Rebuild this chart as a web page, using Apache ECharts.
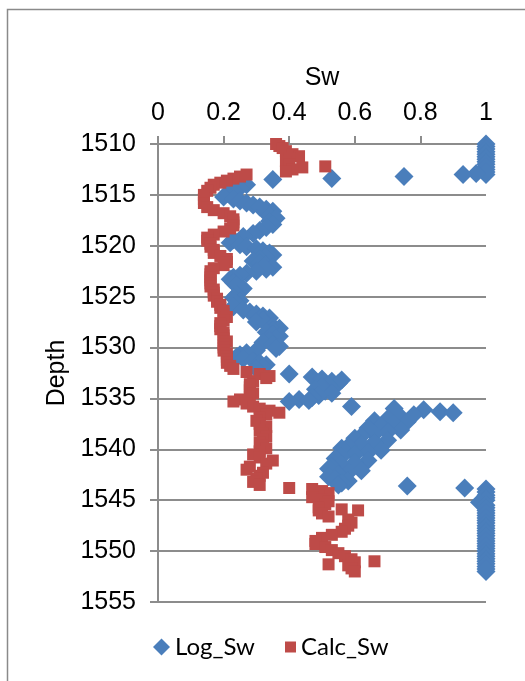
<!DOCTYPE html>
<html>
<head>
<meta charset="utf-8">
<script src="https://cdn.jsdelivr.net/npm/echarts@6/dist/echarts.min.js"></script>
<style>
  html, body { margin: 0; padding: 0; background: #fff; }
  #chart { width: 525px; height: 681px; }
</style>
</head>
<body>
<div id="chart"></div>
<script>
// x axis ticks (Sw) and y axis ticks (Depth)
var swTicks = [0, 0.2, 0.4, 0.6, 0.8, 1];
var depthTicks = [1510, 1515, 1520, 1525, 1530, 1535, 1540, 1545, 1550, 1555];
var seriesNames = ['Log_Sw', 'Calc_Sw'];

// Log_Sw: depth / value
var logDepth = [
  1510.0, 1510.25, 1510.5, 1510.75, 1511.0, 1511.25, 1511.5, 1511.75, 1512.0, 1512.25, 1512.5, 1512.75,
  1513.0, 1512.9, 1513.0, 1513.2, 1513.4, 1513.5,
  1514.0, 1514.3, 1514.6, 1514.9, 1515.2, 1515.4, 1515.6, 1515.8, 1516.0, 1516.2, 1516.4, 1516.6, 1516.8,
  1517.0, 1517.3, 1517.6, 1517.9, 1518.2, 1518.5, 1518.8, 1519.1, 1519.4, 1519.7, 1519.9,
  1520.1, 1520.3, 1520.5, 1520.7, 1520.9, 1521.1, 1521.3, 1521.5, 1521.7, 1521.9,
  1522.1, 1522.3, 1522.5, 1522.7, 1522.9, 1523.1, 1523.3, 1523.6, 1523.9,
  1524.2, 1524.5, 1524.8, 1525.1, 1525.4, 1525.7, 1526.0, 1526.3, 1526.5, 1526.7, 1526.9,
  1527.1, 1527.3, 1527.5, 1527.7, 1527.9, 1528.1, 1528.3, 1528.5, 1528.7, 1528.9,
  1529.1, 1529.3, 1529.5, 1529.7, 1529.9, 1530.1, 1530.3, 1530.5, 1530.7, 1530.9,
  1531.1, 1531.3, 1531.5, 1531.7, 1531.9, 1532.1,
  1532.6, 1532.9, 1533.1, 1533.3, 1533.5, 1533.2, 1533.7, 1533.9, 1534.1, 1534.3, 1534.5, 1534.7, 1534.9,
  1535.1, 1535.3, 1535.2, 1535.8,
  1536.0, 1536.1, 1536.3, 1536.4, 1536.6, 1536.8, 1537.0, 1537.2, 1537.3, 1537.5, 1537.7, 1537.9,
  1538.1, 1538.3, 1538.5, 1538.7, 1538.9, 1539.1, 1539.3, 1539.5, 1539.7, 1539.9,
  1540.1, 1540.3, 1540.5, 1540.7, 1540.9, 1541.1, 1541.3, 1541.5, 1541.7, 1541.9,
  1542.1, 1542.3, 1542.5, 1542.7, 1542.9, 1543.1, 1543.3, 1543.5, 1543.6, 1543.8,
  1543.9, 1544.2, 1544.5, 1544.75, 1545.0, 1545.2, 1545.5, 1545.75, 1546.0, 1546.25, 1546.5, 1546.75,
  1547.0, 1547.25, 1547.5, 1547.75, 1548.0, 1548.25, 1548.5, 1548.75, 1549.0, 1549.25, 1549.5, 1549.75,
  1550.0, 1550.25, 1550.5, 1550.75, 1551.0, 1551.25, 1551.5, 1551.75, 1552.0
];
var logSw = [
  1.0, 1.0, 1.0, 1.0, 1.0, 1.0, 1.0, 1.0, 1.0, 1.0, 1.0, 1.0,
  1.0, 0.97, 0.93, 0.75, 0.53, 0.35,
  0.27, 0.25, 0.23, 0.21, 0.20, 0.23, 0.25, 0.27, 0.29, 0.31, 0.33, 0.35, 0.33,
  0.34, 0.36, 0.34, 0.35, 0.33, 0.31, 0.29, 0.26, 0.23, 0.22, 0.25,
  0.27, 0.30, 0.32, 0.34, 0.35, 0.33, 0.31, 0.29, 0.31, 0.33,
  0.35, 0.33, 0.30, 0.27, 0.25, 0.23, 0.22, 0.23, 0.24,
  0.26, 0.25, 0.24, 0.23, 0.25, 0.24, 0.23, 0.26, 0.28, 0.30, 0.32,
  0.34, 0.32, 0.30, 0.33, 0.35, 0.37, 0.35, 0.33, 0.35, 0.37,
  0.36, 0.34, 0.32, 0.35, 0.37, 0.36, 0.30, 0.27, 0.25, 0.24,
  0.26, 0.29, 0.31, 0.33, 0.32, 0.30,
  0.40, 0.47, 0.50, 0.53, 0.55, 0.56, 0.52, 0.50, 0.48, 0.51, 0.53, 0.49, 0.47,
  0.43, 0.40, 0.46, 0.59,
  0.72, 0.81, 0.86, 0.90, 0.78, 0.74, 0.70, 0.66, 0.76, 0.72, 0.68, 0.64,
  0.74, 0.70, 0.66, 0.62, 0.60, 0.70, 0.66, 0.62, 0.58, 0.56,
  0.68, 0.64, 0.60, 0.56, 0.54, 0.64, 0.60, 0.56, 0.53, 0.52,
  0.62, 0.58, 0.55, 0.52, 0.54, 0.58, 0.56, 0.55, 0.76, 0.935,
  1.0, 1.0, 1.0, 1.0, 1.0, 0.98, 1.0, 1.0, 1.0, 1.0, 1.0, 1.0,
  1.0, 1.0, 1.0, 1.0, 1.0, 1.0, 1.0, 1.0, 1.0, 1.0, 1.0, 1.0,
  1.0, 1.0, 1.0, 1.0, 1.0, 1.0, 1.0, 1.0, 1.0
];

// Calc_Sw: depth / value
var calcDepth = [
  1510.0, 1510.2, 1510.4, 1510.7, 1511.0, 1511.2, 1511.4, 1511.7, 1512.0, 1512.2, 1512.3, 1512.5, 1512.7,
  1513.0, 1513.2, 1513.4, 1513.6, 1513.8, 1514.0, 1514.3, 1514.6, 1515.0, 1515.4, 1515.8, 1516.2, 1516.5, 1516.8,
  1517.1, 1517.4, 1517.7, 1518.0, 1518.3, 1518.6, 1518.9, 1519.2, 1519.5, 1519.8,
  1520.1, 1520.4, 1520.7, 1521.0, 1521.3, 1521.6, 1521.9, 1522.2, 1522.5, 1522.8,
  1523.1, 1523.4, 1523.7, 1524.0, 1524.3, 1524.6, 1524.9, 1525.2, 1525.5, 1525.8,
  1526.1, 1526.4, 1526.7, 1527.0, 1527.3, 1527.6, 1527.9, 1528.2, 1528.5, 1528.8,
  1529.1, 1529.4, 1529.7, 1530.0, 1530.3, 1530.6, 1530.9, 1531.2, 1531.5, 1531.8,
  1532.1, 1532.4, 1532.6, 1532.8, 1533.0, 1533.3, 1533.6, 1533.9, 1534.2, 1534.5, 1534.8,
  1535.1, 1535.3, 1535.5, 1535.8, 1536.0, 1536.2, 1536.4, 1536.6, 1536.9,
  1537.2, 1537.5, 1537.8, 1538.1, 1538.4, 1538.7, 1539.0, 1539.3, 1539.6, 1539.9,
  1540.2, 1540.5, 1540.8, 1541.1, 1541.4, 1541.7, 1542.0, 1542.3, 1542.6, 1542.9,
  1543.2, 1543.5, 1543.8, 1543.9,
  1544.1, 1544.3, 1544.5, 1544.7, 1544.9, 1545.1, 1545.4, 1545.7, 1546.0, 1546.3, 1546.6, 1545.9, 1546.0,
  1546.9, 1547.2, 1547.5, 1547.8, 1548.1, 1548.4, 1548.7, 1549.0, 1549.3, 1549.6, 1549.9,
  1550.2, 1550.5, 1550.8, 1551.1, 1551.4, 1551.7, 1551.3, 1551.0, 1552.0
];
var calcSw = [
  0.36, 0.37, 0.38, 0.39, 0.41, 0.43, 0.40, 0.39, 0.40, 0.51, 0.44, 0.41, 0.39,
  0.27, 0.25, 0.23, 0.21, 0.19, 0.17, 0.16, 0.15, 0.14, 0.14, 0.14, 0.15, 0.17, 0.20,
  0.22, 0.23, 0.23, 0.23, 0.22, 0.20, 0.17, 0.15, 0.15, 0.16,
  0.16, 0.17, 0.17, 0.19, 0.21, 0.21, 0.20, 0.17, 0.16, 0.16,
  0.16, 0.16, 0.16, 0.16, 0.17, 0.17, 0.17, 0.18, 0.18, 0.19,
  0.19, 0.20, 0.20, 0.21, 0.20, 0.19, 0.19, 0.19, 0.20, 0.20,
  0.20, 0.21, 0.20, 0.20, 0.20, 0.21, 0.21, 0.21, 0.21, 0.22,
  0.23, 0.27, 0.31, 0.34, 0.33, 0.29, 0.28, 0.28, 0.28, 0.29, 0.28,
  0.25, 0.23, 0.27, 0.29, 0.31, 0.34, 0.37, 0.33, 0.31,
  0.30, 0.31, 0.33, 0.31, 0.32, 0.33, 0.32, 0.31, 0.32, 0.33,
  0.31, 0.29, 0.31, 0.35, 0.33, 0.28, 0.27, 0.32, 0.31, 0.30,
  0.29, 0.31, 0.40, 0.47,
  0.50, 0.52, 0.49, 0.47, 0.50, 0.52, 0.51, 0.49, 0.49, 0.50, 0.52, 0.56, 0.61,
  0.58, 0.59, 0.58, 0.57, 0.56, 0.53, 0.50, 0.48, 0.48, 0.51, 0.53,
  0.55, 0.57, 0.59, 0.60, 0.58, 0.59, 0.52, 0.66, 0.60
];

function pairs(xs, ys) {
  var out = [];
  for (var i = 0; i < xs.length; i++) out.push([xs[i], ys[i]]);
  return out;
}

var axisFont = '"Liberation Sans", Arial, sans-serif';
var gridColor = '#8c8c8c';

var chart = echarts.init(document.getElementById('chart'), null, { renderer: 'canvas' });
chart.setOption({
  animation: false,
  backgroundColor: '#fff',
  graphic: [{
    type: 'rect',
    shape: { x: 7.5, y: 9.5, width: 700, height: 800 },
    style: { fill: 'none', stroke: '#8a8a8a', lineWidth: 1.5 },
    silent: true
  }],
  grid: { left: 158, right: 39, top: 144, bottom: 79 },
  legend: [{
    data: [{ name: seriesNames[0], icon: 'diamond' }],
    left: 148, top: 630,
    itemWidth: 17, itemHeight: 17,
    textStyle: { fontFamily: 'Lato, sans-serif', fontSize: 24, color: '#000' }
  }, {
    data: [{ name: seriesNames[1], icon: 'rect' }],
    left: 280, top: 630,
    itemWidth: 11, itemHeight: 11,
    textStyle: { fontFamily: 'Lato, sans-serif', fontSize: 24, color: '#000' }
  }],
  xAxis: {
    type: 'value',
    position: 'top',
    min: swTicks[0],
    max: swTicks[swTicks.length - 1],
    interval: 0.2,
    name: 'Sw',
    nameLocation: 'middle',
    nameGap: 53,
    nameTextStyle: { fontFamily: axisFont, fontSize: 25, color: '#000' },
    axisLine: { show: true, lineStyle: { color: gridColor, width: 2 } },
    axisTick: { show: true, inside: false, length: 8, lineStyle: { color: gridColor, width: 2 } },
    axisLabel: { fontFamily: axisFont, fontSize: 25, color: '#000', margin: 18 },
    splitLine: { show: false }
  },
  yAxis: {
    type: 'value',
    inverse: true,
    min: depthTicks[0],
    max: depthTicks[depthTicks.length - 1],
    interval: 5,
    name: 'Depth',
    nameLocation: 'middle',
    nameGap: 88,
    nameTextStyle: { fontFamily: axisFont, fontSize: 25, color: '#000' },
    axisLine: { show: true, lineStyle: { color: gridColor, width: 2 } },
    axisTick: { show: true, inside: false, length: 8, lineStyle: { color: gridColor, width: 2 } },
    axisLabel: {
      fontFamily: axisFont, fontSize: 25, color: '#000', margin: 22,
      formatter: function (v) { return String(v); }
    },
    splitLine: { show: true, lineStyle: { color: gridColor, width: 2 } }
  },
  series: [{
    name: seriesNames[0],
    type: 'scatter',
    symbol: 'diamond',
    symbolSize: 19,
    itemStyle: { color: '#4a7ebb', opacity: 1 },
    data: pairs(logSw, logDepth)
  }, {
    name: seriesNames[1],
    type: 'scatter',
    symbol: 'rect',
    symbolSize: 12,
    itemStyle: { color: '#be4b48', opacity: 1 },
    data: pairs(calcSw, calcDepth)
  }]
});
</script>
</body>
</html>
